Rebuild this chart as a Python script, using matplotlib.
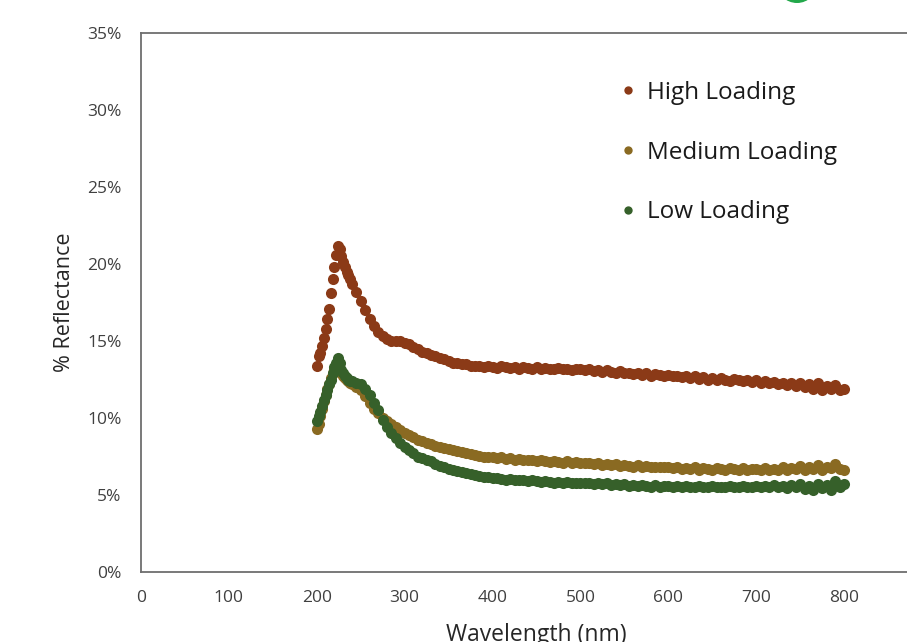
import matplotlib.pyplot as plt
import matplotlib.ticker as mticker
from matplotlib.patches import Circle
import numpy as np

plt.rcParams["font.family"] = ["Open Sans", "DejaVu Sans"]

# wavelength grid (nm): fine steps near the peak, then 5 nm
wavelength = np.concatenate([np.arange(200, 241, 2), np.arange(245, 801, 5)])

high = [
    13.4, 14.0, 14.2, 14.7, 15.2, 15.8, 16.4, 17.1, 18.1, 19.0, 19.8,
    20.6, 21.2, 21.0, 20.5, 20.1, 19.8, 19.5, 19.3, 19.0, 18.7,
    18.2, 17.6, 17.0, 16.4, 16.0, 15.6, 15.3, 15.1, 15.0, 15.0, 15.0,
    14.9, 14.8, 14.6, 14.5, 14.3, 14.2, 14.1, 14.0, 13.9, 13.8,
    13.7, 13.6, 13.6, 13.5, 13.5, 13.4, 13.4, 13.35, 13.3, 13.35,
    13.3, 13.25, 13.35, 13.3, 13.25, 13.3, 13.2, 13.3, 13.25, 13.2,
    13.3, 13.2, 13.25, 13.15, 13.2, 13.25, 13.15, 13.2, 13.1, 13.2,
    13.15, 13.1, 13.2, 13.05, 13.1, 13.0, 13.1, 13.0, 12.95, 13.05,
    12.9, 12.95, 12.85, 12.9, 12.8, 12.9, 12.75, 12.85, 12.8, 12.7,
    12.8, 12.7, 12.75, 12.65, 12.7, 12.6, 12.7, 12.55, 12.65, 12.5,
    12.6, 12.45, 12.6, 12.5, 12.4, 12.55, 12.45, 12.4, 12.5, 12.35,
    12.45, 12.3, 12.4, 12.25, 12.35, 12.2, 12.3, 12.15, 12.3, 12.1,
    12.25, 12.0, 12.2, 11.9, 12.3, 11.85, 12.1, 11.9, 12.15, 11.8, 11.9,
]

medium = [
    9.3, 9.6, 10.1, 10.6, 11.1, 11.5, 11.9, 12.2, 12.6, 12.9, 13.2,
    13.4, 13.5, 13.2, 12.9, 12.7, 12.6, 12.5, 12.4, 12.3, 12.2,
    12.0, 11.8, 11.4, 11.0, 10.6, 10.3, 10.0, 9.8, 9.6, 9.4, 9.2,
    9.05, 8.9, 8.75, 8.6, 8.5, 8.4, 8.3, 8.2, 8.1, 8.05,
    8.0, 7.9, 7.85, 7.8, 7.7, 7.65, 7.6, 7.55, 7.5, 7.5,
    7.45, 7.4, 7.45, 7.35, 7.4, 7.3, 7.35, 7.3, 7.25, 7.3,
    7.2, 7.25, 7.2, 7.15, 7.2, 7.15, 7.1, 7.2, 7.1, 7.15,
    7.1, 7.05, 7.1, 7.0, 7.05, 6.95, 7.0, 6.95, 7.0, 6.9,
    6.95, 6.9, 6.85, 6.95, 6.85, 6.9, 6.8, 6.85, 6.8, 6.85,
    6.8, 6.75, 6.8, 6.7, 6.75, 6.7, 6.8, 6.65, 6.75, 6.7,
    6.65, 6.75, 6.7, 6.65, 6.75, 6.7, 6.6, 6.75, 6.65, 6.7,
    6.7, 6.65, 6.75, 6.6, 6.7, 6.65, 6.8, 6.6, 6.75, 6.7,
    6.9, 6.65, 6.8, 6.7, 6.95, 6.6, 6.85, 6.75, 7.0, 6.7, 6.65,
]

low = [
    9.8, 10.1, 10.4, 10.8, 11.2, 11.5, 11.8, 12.2, 12.5, 12.9, 13.3,
    13.6, 13.9, 13.6, 13.1, 12.9, 12.7, 12.6, 12.5, 12.4, 12.4,
    12.3, 12.2, 11.9, 11.5, 11.0, 10.5, 9.9, 9.4, 9.0, 8.7, 8.4,
    8.1, 7.9, 7.7, 7.5, 7.4, 7.3, 7.2, 7.0, 6.9, 6.8,
    6.7, 6.6, 6.55, 6.5, 6.4, 6.35, 6.3, 6.25, 6.2, 6.15,
    6.1, 6.1, 6.05, 6.0, 6.05, 5.95, 6.0, 5.95, 5.9, 5.95,
    5.9, 5.85, 5.9, 5.85, 5.8, 5.85, 5.8, 5.85, 5.75, 5.8,
    5.8, 5.75, 5.8, 5.7, 5.75, 5.7, 5.75, 5.65, 5.7, 5.65,
    5.7, 5.6, 5.65, 5.6, 5.65, 5.6, 5.55, 5.65, 5.55, 5.6,
    5.6, 5.55, 5.6, 5.5, 5.6, 5.55, 5.5, 5.6, 5.55, 5.5,
    5.6, 5.5, 5.55, 5.5, 5.6, 5.5, 5.55, 5.6, 5.5, 5.55,
    5.6, 5.5, 5.6, 5.55, 5.65, 5.5, 5.6, 5.45, 5.65, 5.5,
    5.7, 5.4, 5.6, 5.35, 5.7, 5.45, 5.65, 5.3, 5.9, 5.5, 5.7,
]

series = [
    ("High Loading", high, "#8b3a17"),
    ("Medium Loading", medium, "#8a6a22"),
    ("Low Loading", low, "#36602a"),
]

fig = plt.figure(figsize=(9.07, 6.42), dpi=100)
# axes runs past the right edge of the image, like the cropped original
ax = fig.add_axes([141 / 907, 70 / 642, 791 / 907, 539 / 642])

for label, vals, color in series:
    ax.plot(wavelength, vals, "o", color=color, markersize=8,
            markeredgewidth=0, label=label)

ax.set_xlim(0, 900)
ax.set_ylim(0, 35)
ax.set_xticks(np.arange(0, 801, 100))
ax.set_yticks(np.arange(0, 36, 5))
ax.yaxis.set_major_formatter(mticker.PercentFormatter(decimals=0))
ax.tick_params(length=0, labelsize=12.5, colors="#404040")
ax.tick_params(axis="y", pad=14)
ax.tick_params(axis="x", pad=13)

for sp in ax.spines.values():
    sp.set_color("#6e6e6e")
    sp.set_linewidth(1.3)

ax.set_xlabel("Wavelength (nm)", fontsize=16.5, color="#262626", labelpad=12)
ax.set_ylabel("% Reflectance", fontsize=15.5, color="#262626", labelpad=9)

leg = ax.legend(loc="upper left", bbox_to_anchor=(621 / 907, 1 - 81 / 642),
                bbox_transform=fig.transFigure, frameon=False, fontsize=17.5,
                markerscale=0.75, handlelength=0.6, handletextpad=0.45,
                labelspacing=1.47, borderpad=0, borderaxespad=0)
for t in leg.get_texts():
    t.set_color("#1a1a1a")

# green badge peeking in at the top edge
fig.patches.append(Circle((7.97, 6.42 + 0.175), 0.198, color="#22a84a",
                          transform=fig.dpi_scale_trans, figure=fig))

fig.savefig("out.png", dpi=100)
